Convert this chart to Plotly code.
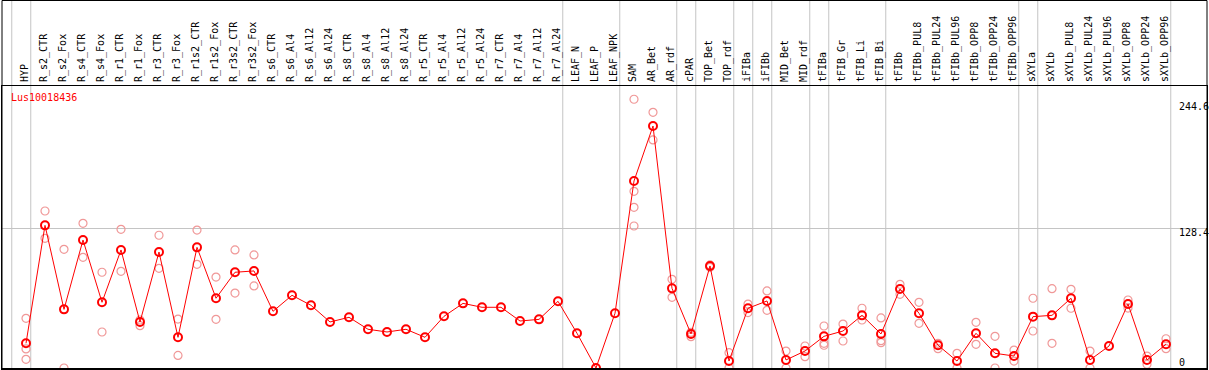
import plotly.graph_objects as go

gene = "Lus10018436"

categories = [
    "HYP", "R_s2_CTR", "R_s2_Fox", "R_s4_CTR", "R_s4_Fox", "R_r1_CTR", "R_r1_Fox",
    "R_r3_CTR", "R_r3_Fox", "R_r1s2_CTR", "R_r1s2_Fox", "R_r3s2_CTR", "R_r3s2_Fox",
    "R_s6_CTR", "R_s6_Al4", "R_s6_Al12", "R_s6_Al24", "R_s8_CTR", "R_s8_Al4",
    "R_s8_Al12", "R_s8_Al24", "R_r5_CTR", "R_r5_Al4", "R_r5_Al12", "R_r5_Al24",
    "R_r7_CTR", "R_r7_Al4", "R_r7_Al12", "R_r7_Al24", "LEAF_N", "LEAF_P", "LEAF_NPK",
    "SAM", "AR_Bet", "AR_rdf", "cPAR", "TOP_Bet", "TOP_rdf", "iFIBa", "iFIBb",
    "MID_Bet", "MID_rdf", "tFIBa", "tFIB_Gr", "tFIB_Li", "tFIB_Bi", "tFIBb",
    "tFIBb_PUL8", "tFIBb_PUL24", "tFIBb_PUL96", "tFIBb_OPP8", "tFIBb_OPP24",
    "tFIBb_OPP96", "sXYLa", "sXYLb", "sXYLb_PUL8", "sXYLb_PUL24", "sXYLb_PUL96",
    "sXYLb_OPP8", "sXYLb_OPP24", "sXYLb_OPP96",
]

mean_values = [
    22.7, 131.1, 53.9, 117.6, 60.4, 108.5, 42.3, 106.6, 28.2, 110.9, 64.1, 88.0, 89.2,
    52.1, 66.8, 57.6, 42.3, 46.6, 35.6, 33.1, 35.6, 28.2, 47.5, 59.4, 55.8,
    55.8, 43.2, 44.7, 61.3, 31.9, 0.0, 50.3,
    171.9, 222.4, 73.2, 31.3, 93.8, 6.4, 54.9, 61.6, 7.4, 15.6,
    29.1, 34.0, 48.4, 31.3, 72.6, 50.3, 20.9, 6.4, 31.9, 13.5, 11.0,
    47.2, 48.4, 64.1, 7.4, 20.2, 58.8, 7.4, 21.8,
]

replicates = {
    "HYP": [45.7, 17.5, 8.0],
    "R_s2_CTR": [144.3, 119.2],
    "R_s2_Fox": [109.1, 0.0],
    "R_s4_CTR": [133.0, 101.7],
    "R_s4_Fox": [88.0, 33.1],
    "R_r1_CTR": [127.5, 88.9],
    "R_r1_Fox": [44.1, 38.9],
    "R_r3_CTR": [122.0, 91.6],
    "R_r3_Fox": [45.0, 11.6],
    "R_r1s2_CTR": [126.8, 95.3],
    "R_r1s2_Fox": [83.6, 44.7],
    "R_r3s2_CTR": [108.5, 68.9],
    "R_r3s2_Fox": [103.9, 75.4],
    "SAM": [247.0, 162.4, 147.7, 130.5],
    "AR_Bet": [235.0, 209.6],
    "AR_rdf": [81.5, 65.0],
    "cPAR": [32.8, 28.8],
    "TOP_Bet": [94.7, 92.5],
    "TOP_rdf": [14.1, 0.0],
    "iFIBa": [58.8, 50.9],
    "iFIBb": [70.8, 53.0],
    "MID_Bet": [15.6, 0.0],
    "MID_rdf": [20.2, 10.4],
    "tFIBa": [38.6, 22.7, 20.9],
    "tFIB_Gr": [40.4, 24.8],
    "tFIB_Li": [54.9, 44.1],
    "tFIB_Bi": [46.0, 25.1, 23.3],
    "tFIBb": [76.9, 67.7],
    "tFIBb_PUL8": [60.4, 41.1],
    "tFIBb_PUL24": [22.7, 17.8],
    "tFIBb_PUL96": [13.5, 0.0],
    "tFIBb_OPP8": [42.0, 21.8],
    "tFIBb_OPP24": [29.1, 0.0],
    "tFIBb_OPP96": [16.5, 6.4],
    "sXYLa": [64.1, 34.0],
    "sXYLb": [72.9, 22.7],
    "sXYLb_PUL8": [72.3, 54.9],
    "sXYLb_PUL24": [15.6, 0.0],
    "sXYLb_OPP8": [62.5, 55.1],
    "sXYLb_OPP24": [11.0, 3.4],
    "sXYLb_OPP96": [26.9, 17.8],
}

# categories after which a group separator is drawn
group_ends = ["HYP", "R_r7_Al24", "LEAF_NPK", "AR_rdf", "cPAR", "TOP_rdf", "iFIBa",
              "iFIBb", "MID_rdf", "tFIBa", "tFIB_Bi", "tFIBb_OPP96", "sXYLa", "sXYLb_OPP96"]

y_labels = [0, 128.4, 244.6]

W, H = 1209, 370
FONT = "DejaVu Sans Mono"

idx = list(range(len(categories)))
rep_x, rep_y = [], []
for c, vals in replicates.items():
    i = categories.index(c)
    for v in vals:
        rep_x.append(i)
        rep_y.append(v)

fig = go.Figure()
fig.add_trace(go.Scatter(
    x=rep_x, y=rep_y, mode="markers",
    marker=dict(symbol="circle-open", size=8, color="#f09898", line=dict(width=1.2, color="#f09898")),
    hoverinfo="skip", showlegend=False,
))
fig.add_trace(go.Scatter(
    x=idx, y=mean_values, mode="lines+markers",
    line=dict(color="#ff0000", width=1),
    marker=dict(symbol="circle-open", size=8, color="#ff0000", line=dict(width=2, color="#ff0000")),
    showlegend=False,
))

# pixel geometry helpers
x0_px, pitch = 26.0, 19.0
def xr(px):
    return (px - x0_px) / pitch

zero_px, scale = 368.0, 1.088
def yr(px):
    return (zero_px - px) / scale

shapes = []
seps = [-1] + [categories.index(c) for c in group_ends]
for s in seps:
    shapes.append(dict(type="line", xref="x", yref="paper", x0=s + 0.25, x1=s + 0.25,
                       y0=0, y1=1, line=dict(color="#c4c4c4", width=1), layer="below"))
# outer frame
shapes.append(dict(type="rect", xref="paper", yref="paper",
                   x0=2 / W, x1=1207 / W, y0=1.5 / H, y1=1 - 0.5 / H,
                   line=dict(color="black", width=1), fillcolor="rgba(0,0,0,0)", layer="above"))

annotations = [dict(text=gene, xref="paper", yref="paper", x=9 / W, y=1 - 90 / H,
                    xanchor="left", yanchor="top", showarrow=False,
                    font=dict(family=FONT, size=10, color="#ff0000"))]
shifts = {0: 6, 128.4: -4, 244.6: -5}
for v in y_labels:
    annotations.append(dict(text=str(v), xref="paper", yref="y", x=1177 / W, y=v,
                            xanchor="left", yanchor="middle", yshift=shifts[v], showarrow=False,
                            font=dict(family=FONT, size=10, color="black")))

fig.update_layout(
    width=W, height=H, margin=dict(l=0, r=0, t=0, b=0),
    paper_bgcolor="white", plot_bgcolor="rgba(0,0,0,0)",
    shapes=shapes, annotations=annotations,
    xaxis=dict(domain=[2 / W, 1207 / W], range=[xr(2), xr(1207)], side="top",
               tickmode="array", tickvals=idx, ticktext=categories, tickangle=-90,
               ticks="", showgrid=False, zeroline=False, showline=True, mirror=True,
               linecolor="black", linewidth=1, ticklabelstandoff=1, ticklabelshift=-1,
               tickfont=dict(family=FONT, size=10, color="black")),
    yaxis=dict(domain=[1 / H, (H - 86) / H], range=[yr(369), yr(86)],
               tickmode="array", tickvals=[128.4], showticklabels=False, ticks="",
               showgrid=True, gridcolor="#c4c4c4", gridwidth=1, zeroline=False,
               showline=True, mirror=True, linecolor="black", linewidth=1),
)

fig.write_html("out.html", config={"displayModeBar": False},
               post_script="document.body.style.margin='0';document.body.style.overflow='hidden';")
